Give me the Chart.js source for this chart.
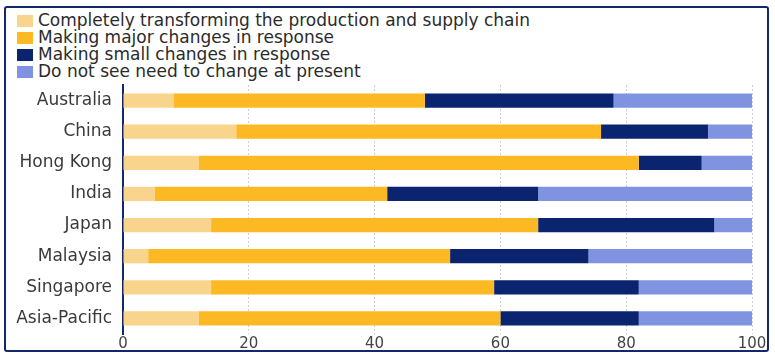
<!DOCTYPE html>
<html>
<head>
<meta charset="utf-8">
<script src="https://cdn.jsdelivr.net/npm/chart.js@4.4.1/dist/chart.umd.min.js"></script>
<style>
html,body{margin:0;padding:0;background:#fff;}
#wrap{position:relative;width:775px;height:356px;overflow:hidden;background:#fff;}
#frame{position:absolute;left:4px;top:6px;width:761px;height:342px;border:2px solid #14276b;border-radius:3px;box-sizing:content-box;}
#legend{position:absolute;left:17px;top:12px;font-family:"DejaVu Sans",sans-serif;font-size:17px;color:#2b2b2b;line-height:17px;}
#legend .item{display:flex;align-items:center;white-space:nowrap;height:17px;}
#legend .box{display:inline-block;width:16px;height:12px;margin-right:5px;}
canvas{position:absolute;left:0;top:0;}
</style>
</head>
<body>
<div id="wrap">
  <div id="frame"></div>
  <div id="legend"></div>
  <canvas id="c" width="775" height="356"></canvas>
</div>
<script>
const categories = ["Australia","China","Hong Kong","India","Japan","Malaysia","Singapore","Asia-Pacific"];
const seriesNames = [
  "Completely transforming the production and supply chain",
  "Making major changes in response",
  "Making small changes in response",
  "Do not see need to change at present"
];
const transforming = [8, 18, 12, 5, 14, 4, 14, 12];
const majorChanges = [40, 58, 70, 37, 52, 48, 45, 48];
const smallChanges = [30, 17, 10, 24, 28, 22, 23, 22];
const noChange     = [22, 7, 8, 34, 6, 26, 18, 18];
const xTicks = [0, 20, 40, 60, 80, 100];
const colors = ["#f9d48c", "#fcb924", "#0b2470", "#7f93e1"];

const seriesData = [transforming, majorChanges, smallChanges, noChange];

// HTML legend (real text)
const legendEl = document.getElementById('legend');
seriesNames.forEach((name, i) => {
  const it = document.createElement('div');
  it.className = 'item';
  const b = document.createElement('span');
  b.className = 'box';
  b.style.background = colors[i];
  const t = document.createElement('span');
  t.textContent = name;
  it.appendChild(b); it.appendChild(t);
  legendEl.appendChild(it);
});

Chart.defaults.font.family = '"DejaVu Sans", sans-serif';

new Chart(document.getElementById('c'), {
  type: 'bar',
  data: {
    labels: categories,
    datasets: seriesNames.map((name, i) => ({
      label: name,
      data: seriesData[i],
      backgroundColor: colors[i],
      borderWidth: 0,
      categoryPercentage: 1.0,
      barPercentage: 0.46
    }))
  },
  options: {
    indexAxis: 'y',
    responsive: false,
    animation: false,
    devicePixelRatio: 1,
    layout: { padding: { left: 0, right: 23, top: 85, bottom: 0 } },
    plugins: {
      legend: { display: false },
      tooltip: { enabled: false }
    },
    scales: {
      x: {
        stacked: true,
        min: 0, max: 100,
        afterBuildTicks: (scale) => { scale.ticks = xTicks.map(v => ({ value: v })); },
        afterFit: (scale) => { scale.height = 22; },
        grid: {
          color: (ctx) => ctx.tick && ctx.tick.value === 0 ? 'rgba(0,0,0,0)' : '#cfcfcf',
          lineWidth: 1,
          drawTicks: false
        },
        border: { display: false, dash: [2, 2] },
        ticks: { color: '#444', font: { size: 15 }, padding: 1 }
      },
      y: {
        stacked: true,
        z: 1,
        afterFit: (scale) => { scale.width = 123; },
        grid: { display: false, drawTicks: false },
        border: { display: true, color: '#14276b', width: 2 },
        ticks: { color: '#3a3a3a', font: { size: 17 }, padding: 11 }
      }
    }
  }
});
</script>
</body>
</html>
